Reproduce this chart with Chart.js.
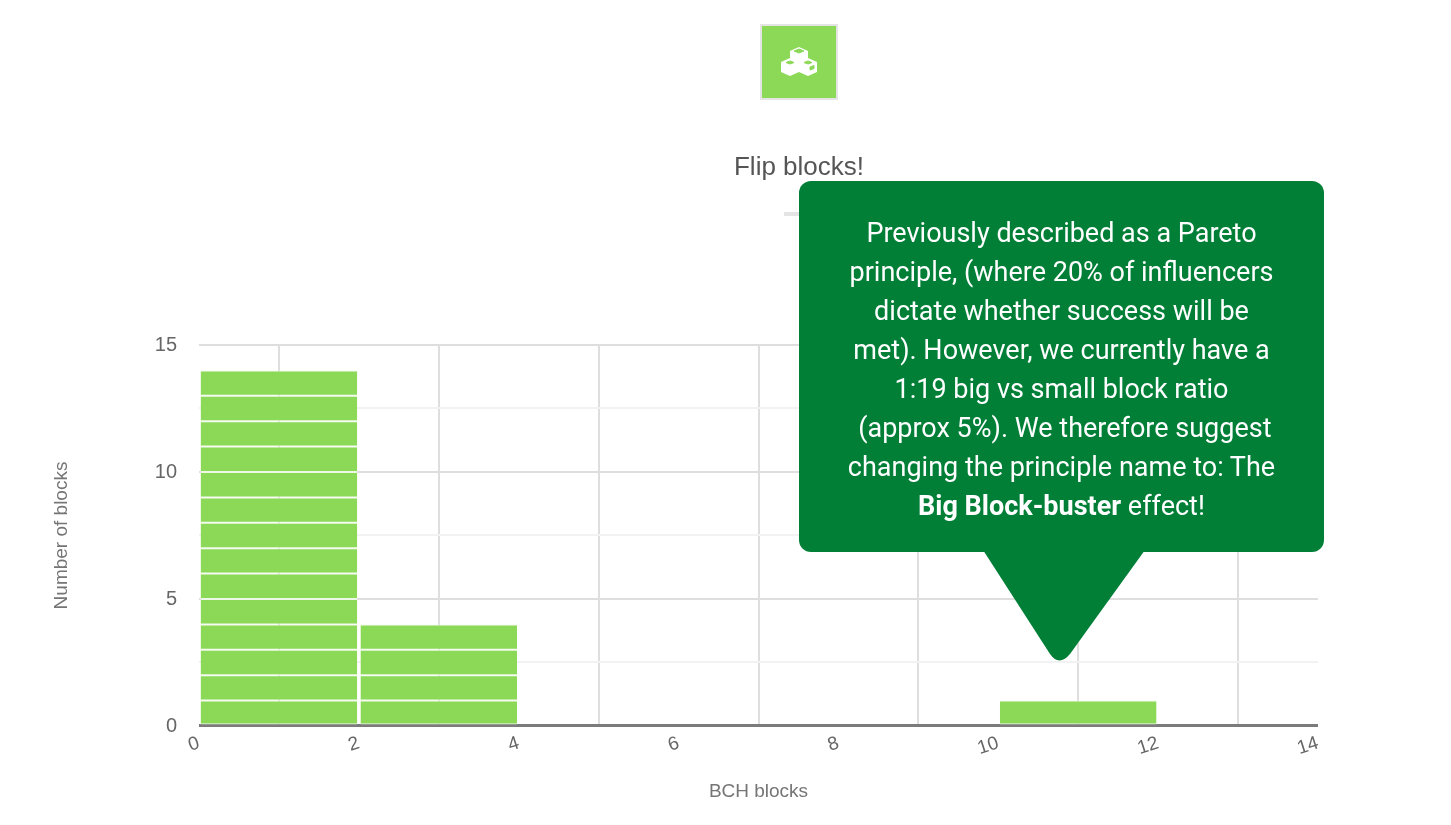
<!DOCTYPE html>
<html>
<head>
<meta charset="utf-8">
<title>Flip blocks!</title>
<script src="https://cdn.jsdelivr.net/npm/chart.js@4/dist/chart.umd.min.js"></script>
<style>
  html, body { margin: 0; padding: 0; background: #fff; width: 1451px; height: 825px; overflow: hidden; }
  #chart { position: absolute; left: 0; top: 0; }
  #icon { position: absolute; left: 760px; top: 24px; width: 74px; height: 72px; background: #8cd958; border: 2px solid #e4e4e4; }
  #title { position: absolute; left: 600px; width: 398px; top: 151px; text-align: center; font: 26px "Liberation Sans", Arial, sans-serif; color: #555; }
  #rule { position: absolute; left: 784px; top: 212px; width: 40px; height: 4px; background: #e4e4e4; }
  #note { position: absolute; left: 799px; top: 181px; width: 525px; height: 371px; background: #017f37; border-radius: 12px; }
  #note p { margin: 0; position: absolute; left: 0; right: 0; top: 33px; text-align: center; white-space: pre; color: #fff; font: 27px/39px Roboto, sans-serif; }
  #pointer { position: absolute; left: 980px; top: 550px; }
</style>
</head>
<body>
<canvas id="chart" width="1451" height="825"></canvas>
<div id="icon">
  <svg width="74" height="72" viewBox="0 0 74 72">
    <g fill="#fff">
      <path d="M37 21l9 4v10l-9 4-9-4V25z"/>
      <path d="M28 32l9 4v10l-9 4-9-4V36z"/>
      <path d="M46 32l9 4v10l-9 4-9-4V36z"/>
    </g>
    <g fill="#8cd958" stroke="#8cd958" stroke-width="1">
      <path d="M37 23l5 2-5 2-5-2z"/>
      <path d="M28 35l4 1.500-4 1.500-4-1.500z"/>
      <path d="M46 35l4 1.500-4 1.500-4-1.500z"/>
      <path d="M48 41l4-1.500v3l-4 1.500z"/>
    </g>
  </svg>
</div>
<div id="title">Flip blocks!</div>
<div id="rule"></div>
<svg id="pointer" width="170" height="115" viewBox="0 0 170 115">
  <path d="M3 0H165L90 104Q79 117 70 104Z" fill="#017f37"/>
</svg>
<div id="note"><p>Previously described as a Pareto
principle, (where 20% of influencers
dictate whether success will be
met). However, we currently have a
1:19 big vs small block ratio
 (approx 5%). We therefore suggest
changing the principle name to: The
<b>Big Block-buster</b> effect!</p></div>
<script>
const binCenters = [1, 3, 11];
const binCounts = [14, 4, 1];
const xTicks = [0, 2, 4, 6, 8, 10, 12, 14];
const yTicks = [0, 5, 10, 15];
const xAxisTitle = "BCH blocks";
const yAxisTitle = "Number of blocks";

// one dataset per block so the histogram stacks up with white lines between them
const datasets = [];
for (let level = 0; level < Math.max(...binCounts); level++) {
  datasets.push({
    data: binCenters.map((c, i) => ({ x: c, y: binCounts[i] > level ? 1 : null })),
    backgroundColor: "#8cd958",
    borderColor: "#eef8e6",
    borderWidth: { top: 1, bottom: 1 },
    borderSkipped: false,
    barPercentage: 0.98,
    categoryPercentage: 1
  });
}

new Chart(document.getElementById("chart").getContext("2d"), {
  type: "bar",
  data: { datasets },
  options: {
    responsive: false,
    animation: false,
    layout: { padding: { left: 50, right: 133, top: 345, bottom: 22 } },
    plugins: { legend: { display: false }, tooltip: { enabled: false } },
    scales: {
      x: {
        type: "linear",
        stacked: true,
        offset: false,
        min: xTicks[0],
        max: xTicks[xTicks.length - 1],
        afterFit: s => { s.paddingLeft = 0; s.paddingRight = 0; },
        afterBuildTicks: s => { s.ticks = xTicks.map(v => ({ value: v })); },
        ticks: { minRotation: 18, maxRotation: 18, autoSkip: false, color: "#666", padding: 6, font: { family: "Liberation Sans", size: 19 } },
        grid: { color: "#dedede", lineWidth: 2, drawTicks: false },
        border: { display: false },
        title: { display: true, text: xAxisTitle, color: "#757575", padding: { top: 14, bottom: 0 }, font: { family: "Liberation Sans", size: 19 } }
      },
      y: {
        stacked: true,
        min: yTicks[0],
        max: yTicks[yTicks.length - 1],
        afterFit: s => { s.width = 149; },
        afterBuildTicks: s => {
          const t = [];
          yTicks.forEach((v, i) => { t.push({ value: v }); if (i < yTicks.length - 1) t.push({ value: (v + yTicks[i + 1]) / 2 }); });
          s.ticks = t;
        },
        ticks: { color: "#666", padding: 22, autoSkip: false, font: { family: "Liberation Sans", size: 20 }, callback: v => (yTicks.includes(v) ? v : "") },
        grid: {
          drawTicks: false,
          color: c => (c.tick.value === 0 ? "#7b7b7b" : yTicks.includes(c.tick.value) ? "#dedede" : "#f2f2f2"),
          lineWidth: c => (c.tick.value === 0 ? 3 : 2)
        },
        border: { display: false },
        title: { display: true, text: yAxisTitle, color: "#757575", padding: { top: 0, bottom: 0 }, font: { family: "Liberation Sans", size: 19 } }
      }
    }
  }
});
</script>
</body>
</html>
